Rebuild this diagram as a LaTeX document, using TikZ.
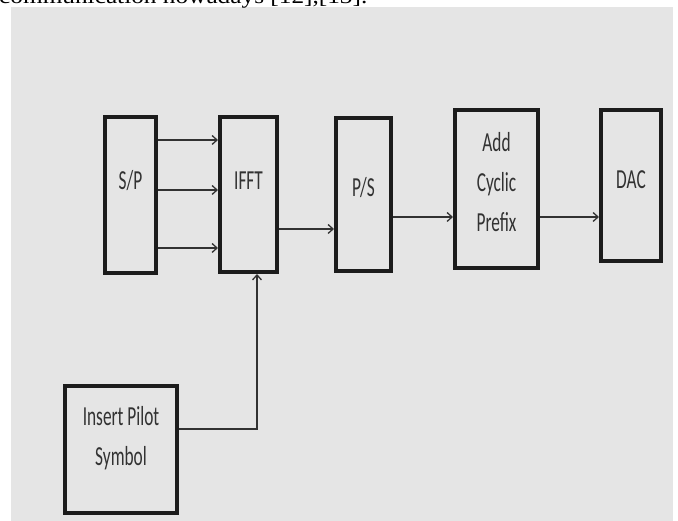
\documentclass[tikz,border=0pt]{standalone}
\usepackage{fontspec}
\newfontfamily\blockfont[FakeStretch=0.63]{Carlito}
\newfontfamily\capfont[FakeStretch=1.15]{Liberation Serif}
\usetikzlibrary{arrows.meta,positioning}
\definecolor{PanelGray}{RGB}{229,229,229}
\definecolor{EdgeBlack}{RGB}{28,28,28}
\definecolor{InkGray}{RGB}{50,50,50}
\tikzset{
  block/.style={draw=EdgeBlack,line width=4pt,fill=PanelGray,inner sep=0pt},
  blocktext/.style={font=\blockfont\fontsize{27.5}{40}\selectfont,
    text=InkGray,align=center,inner sep=0pt},
  arrow/.style={-{Straight Barb[length=5pt,width=9pt]},line width=1.3pt,InkGray}
}

\begin{document}
\begin{tikzpicture}[x=1pt,y=1pt]
  \useasboundingbox (0,0) rectangle (678,521);
  \fill[PanelGray] (11,0) rectangle (673,514);
  \node[anchor=base west,inner sep=0pt,
    font=\capfont\fontsize{22}{26}\selectfont] (caption) at (-1,517)
    {communication nowadays [12],[13].};

  % transmitter chain
  \node[block,minimum width=51pt,minimum height=156pt,
    label={[blocktext,yshift=14pt]center:S/P}] (sp) at (130.5,326) {};
  \node[block,minimum width=57pt,minimum height=155pt,
    label={[blocktext,yshift=13.5pt]center:IFFT}] (ifft) at (248.5,326.5) {};
  \node[block,minimum width=55pt,minimum height=153pt,
    label={[blocktext,yshift=7pt]center:P/S}] (ps) at (363.5,326.5) {};
  \node[block,minimum width=83pt,minimum height=158pt,
    label={[blocktext,yshift=7pt]center:Add\\Cyclic\\Prefix}] (cp) at (496.5,332) {};
  \node[block,minimum width=60pt,minimum height=151pt,
    label={[blocktext,yshift=5.5pt]center:DAC}] (dac) at (631,335.5) {};
  \node[block,minimum width=112pt,minimum height=127pt,
    label={[blocktext,yshift=11pt]center:Insert Pilot\\Symbol}] (pilot) at (121,71.5) {};

  \foreach \dy in {55,5,-53}
    \draw[arrow] ([yshift=\dy pt]sp.east) -- ([yshift=\dy pt]sp.east -| ifft.west);
  \draw[arrow] ([yshift=-34.5pt]ifft.east) -- ([yshift=-34.5pt]ifft.east -| ps.west);
  \draw[arrow] ([yshift=-22.5pt]ps.east) -- ([yshift=-22.5pt]ps.east -| cp.west);
  \draw[arrow] ([yshift=-28pt]cp.east) -- ([yshift=-28pt]cp.east -| dac.west);
  \draw[arrow] ([yshift=20.5pt]pilot.east) -| ([xshift=8.5pt]ifft.south);
\end{tikzpicture}
\end{document}
